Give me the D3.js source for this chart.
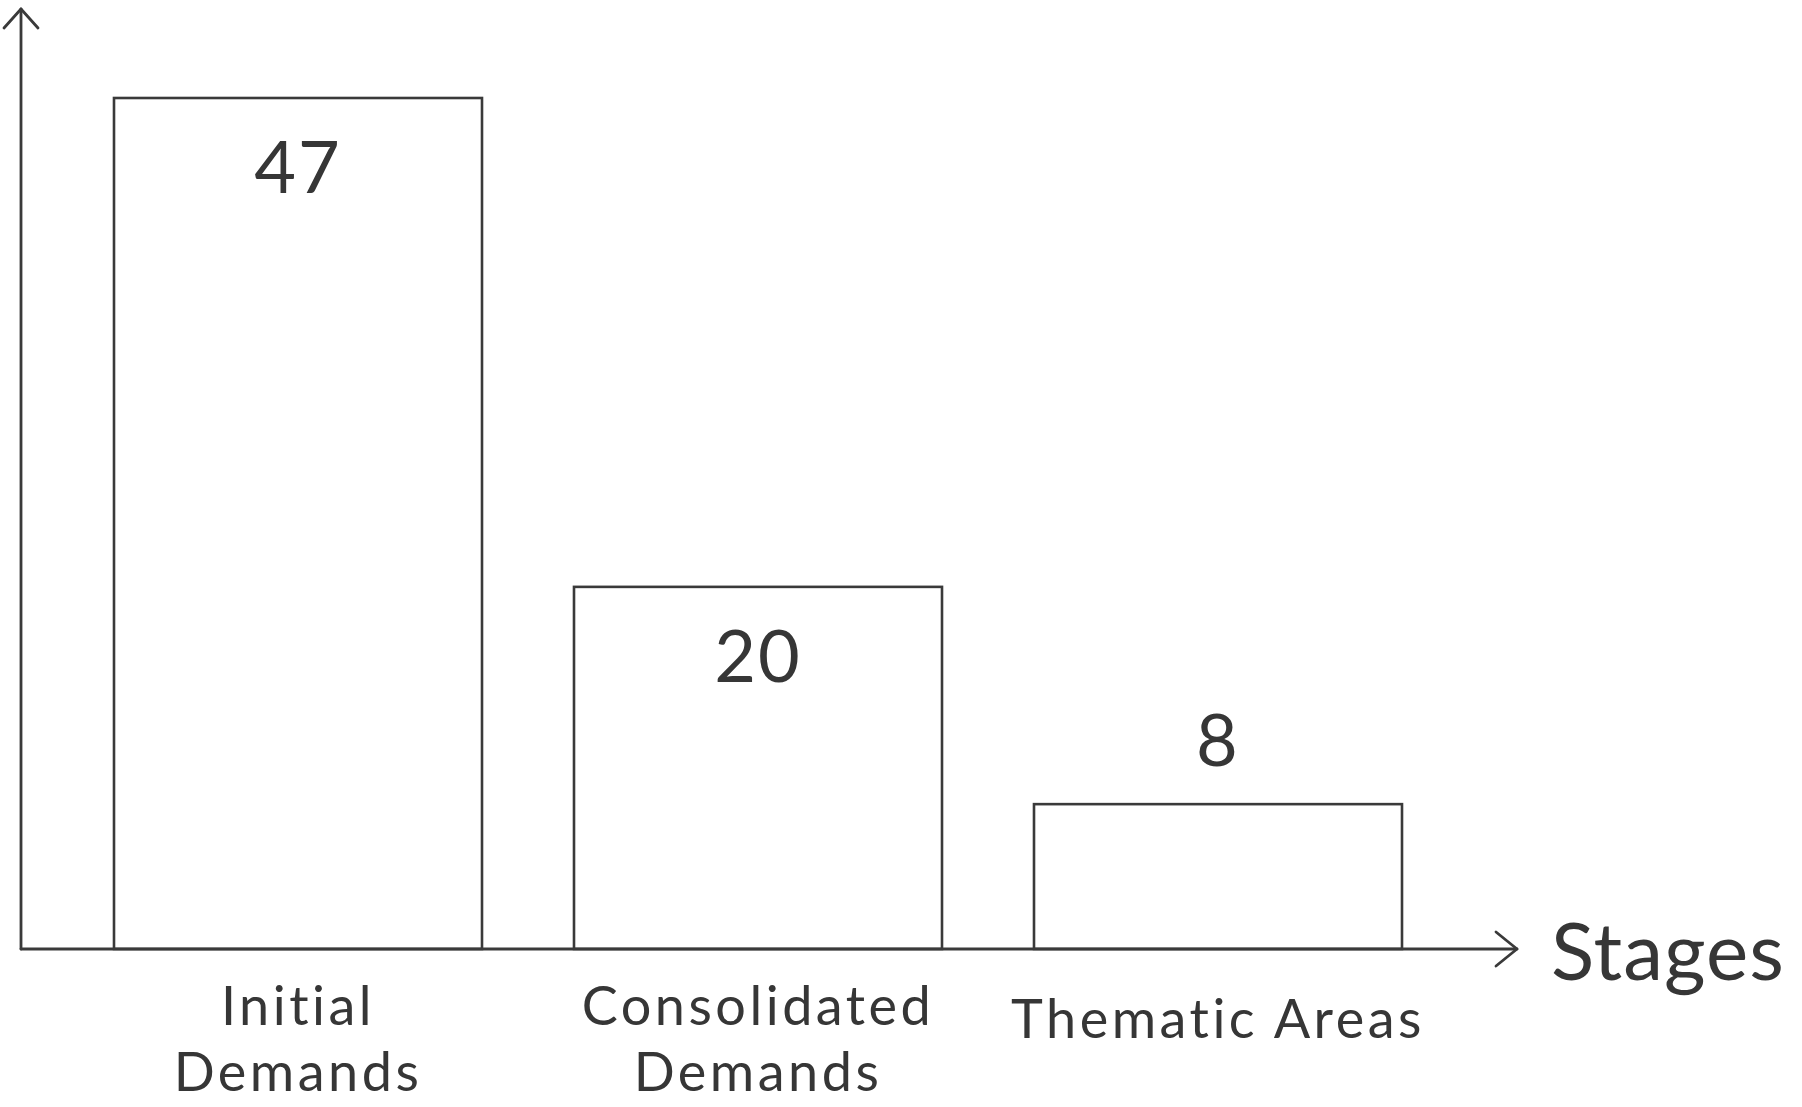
<!DOCTYPE html>
<html>
<head>
<meta charset="utf-8">
<script src="https://cdn.jsdelivr.net/npm/d3@7"></script>
<style>
  html, body { margin: 0; padding: 0; background: #ffffff; }
  svg { display: block; }
  text { font-family: Lato, "Open Sans", sans-serif; fill: #363636; }
</style>
</head>
<body>
<svg id="chart" width="1802" height="1107"></svg>
<script>
// ---- data ----
const categories = ["Initial Demands", "Consolidated Demands", "Thematic Areas"];
const categoryLines = [["Initial", "Demands"], ["Consolidated", "Demands"], ["Thematic Areas"]];
const values = [47, 20, 8];
const axisTitle = "Stages";

// ---- layout ----
const originX = 21, originY = 949;
const axisEndX = 1517, axisTopY = 9;
const ink = "#3a3a3a";

const svg = d3.select("#chart");

const x = d3.scaleBand()
  .domain(categories)
  .range([68, 1448])
  .paddingInner(0.2)
  .paddingOuter(0.1);

const y = d3.scaleLinear()
  .domain([0, d3.max(values)])
  .range([originY, 98]);

const data = categories.map((c, i) => ({ cat: c, value: values[i], lines: categoryLines[i] }));

// bars
svg.append("g").selectAll("rect")
  .data(data)
  .join("rect")
  .attr("x", d => x(d.cat))
  .attr("y", d => y(d.value))
  .attr("width", x.bandwidth())
  .attr("height", d => y(0) - y(d.value))
  .attr("fill", "#ffffff")
  .attr("stroke", ink)
  .attr("stroke-width", 2.6);

// axes
const axes = svg.append("g").attr("fill", "none").attr("stroke", ink)
  .attr("stroke-width", 2.8).attr("stroke-linecap", "round").attr("stroke-linejoin", "round");
// y axis
axes.append("line").attr("x1", originX).attr("y1", originY).attr("x2", originX).attr("y2", axisTopY);
axes.append("path").attr("d", `M${originX - 17},${axisTopY + 19} L${originX},${axisTopY} L${originX + 17},${axisTopY + 19}`);
// x axis
axes.append("line").attr("x1", originX).attr("y1", originY).attr("x2", axisEndX).attr("y2", originY);
axes.append("path").attr("d", `M${axisEndX - 21},${originY - 17} L${axisEndX},${originY} L${axisEndX - 21},${originY + 17}`);

// value labels
svg.append("g").selectAll("text")
  .data(data)
  .join("text")
  .attr("x", d => x(d.cat) + x.bandwidth() / 2)
  .attr("y", d => (y(0) - y(d.value)) > 200 ? y(d.value) + 95 : y(d.value) - 38)
  .attr("text-anchor", "middle")
  .attr("font-size", 72)
  .attr("letter-spacing", 2)
  .text(d => d.value);

// category labels
const catG = svg.append("g");
data.forEach(d => {
  const cx = x(d.cat) + x.bandwidth() / 2;
  const t = catG.append("text")
    .attr("text-anchor", "middle")
    .attr("font-size", 54)
    .attr("letter-spacing", 3.5);
  if (d.lines.length === 1) {
    t.append("tspan").attr("x", cx).attr("y", 1038).text(d.lines[0]);
  } else {
    d.lines.forEach((ln, j) => {
      t.append("tspan").attr("x", cx).attr("y", 1025 + j * 66).text(ln);
    });
  }
});

// axis title
svg.append("text")
  .attr("x", 1551)
  .attr("y", 980)
  .attr("font-size", 80)
  .attr("letter-spacing", 1)
  .text(axisTitle);
</script>
</body>
</html>
